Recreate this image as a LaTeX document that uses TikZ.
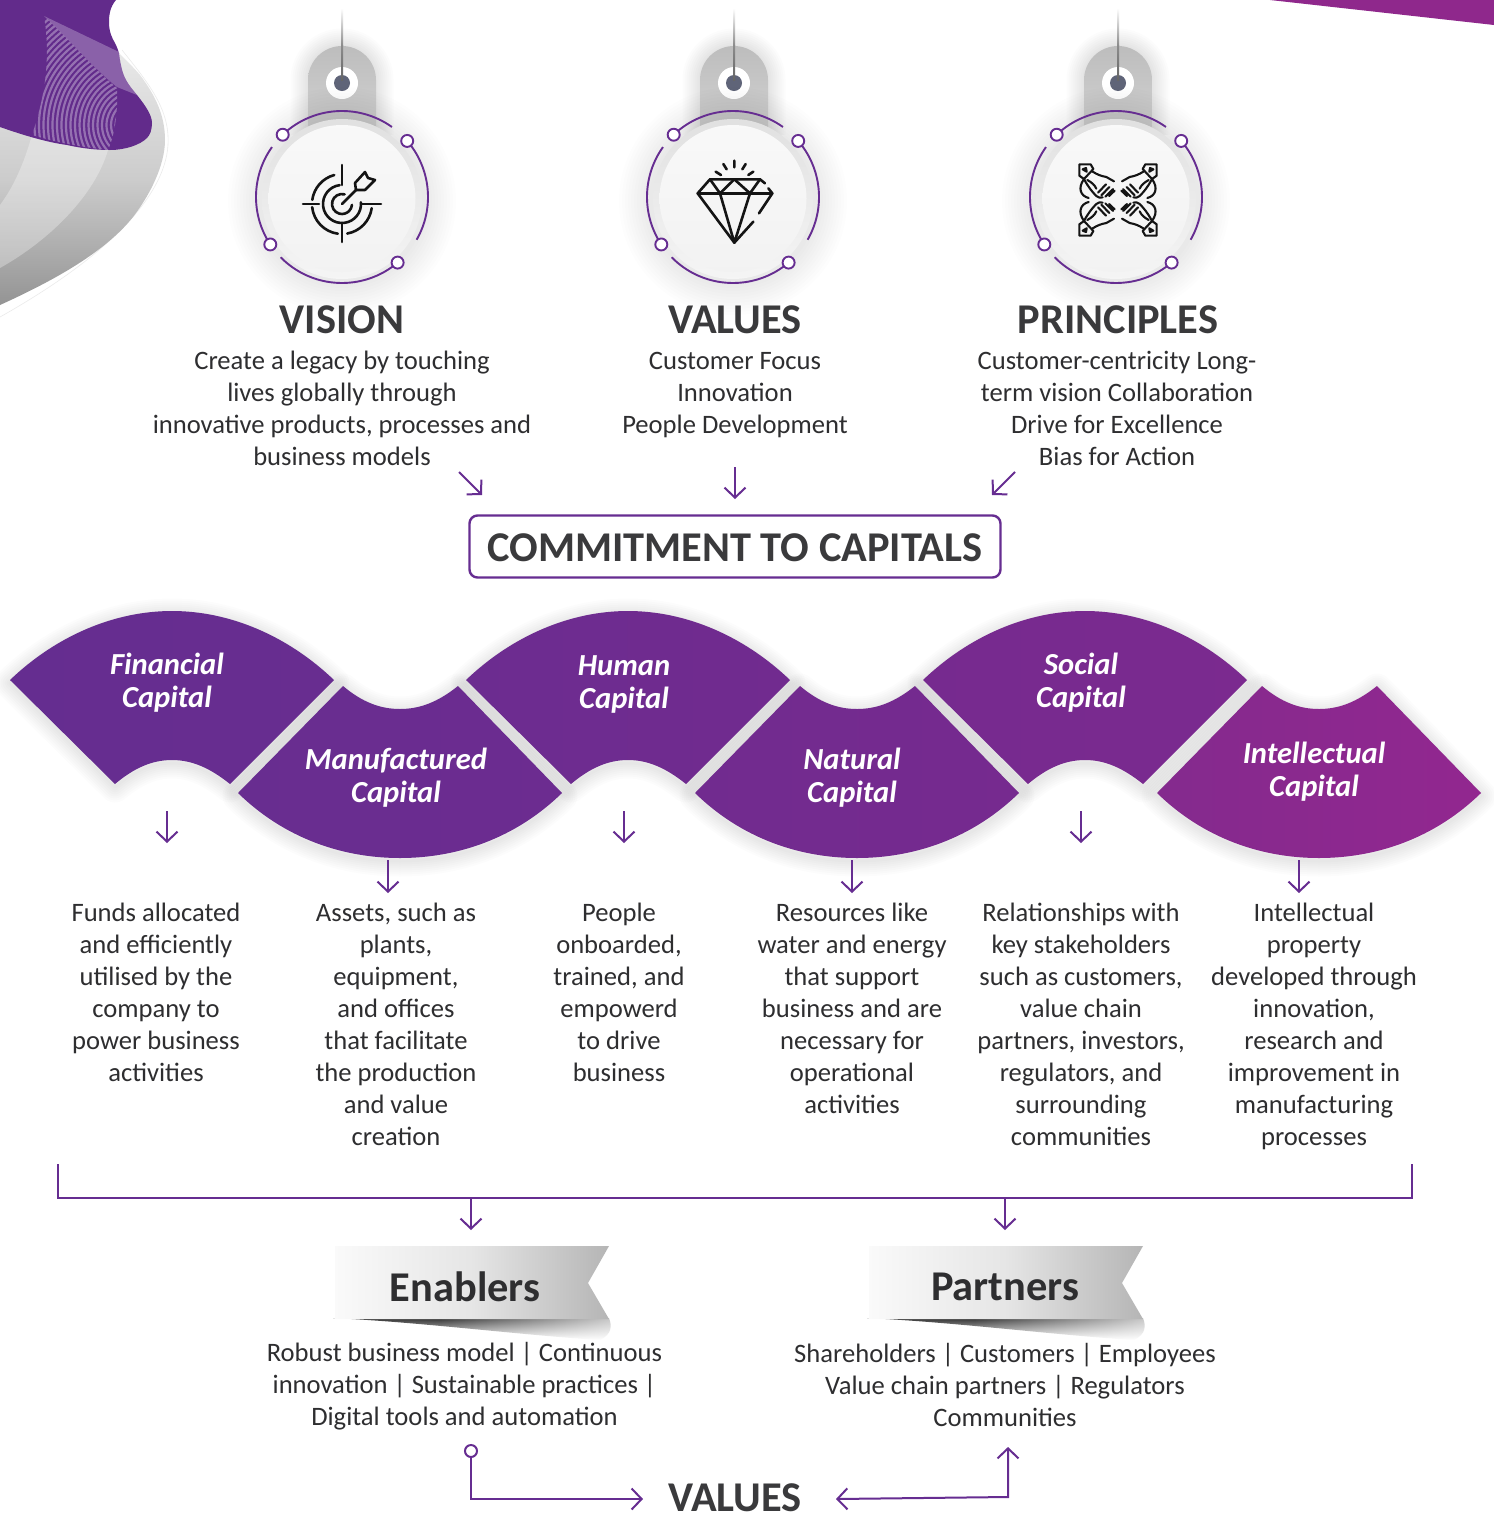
\documentclass[tikz,border=0pt]{standalone}
\usepackage{fontspec}
\setmainfont{Carlito}
\usetikzlibrary{arrows.meta,fadings,calc}
\definecolor{vio}{HTML}{662D91}
\definecolor{ink}{HTML}{2E2E30}
\definecolor{ttl}{HTML}{3A3A3C}
\definecolor{pinkvio}{HTML}{8F288C}
\definecolor{dotc}{HTML}{5F6478}
\tikzfading[name=toright, left color=transparent!100, right color=transparent!25]
\tikzset{
  x=1pt,y=-1pt,
  conn/.style={draw=vio,line width=2pt,-{Straight Barb[length=10pt,width=21pt,line width=2pt]}},
  plainconn/.style={draw=vio,line width=2pt},
  bodytext/.style={font=\fontsize{26.6}{32}\selectfont,text=ink,align=center,inner sep=0pt},
  headtext/.style={font=\fontsize{42.4}{44}\selectfont\bfseries,text=ttl,inner sep=0pt},
  caplabel/.style={font=\fontsize{30.6}{33}\selectfont\bfseries\itshape,text=white,align=center,inner sep=0pt},
  ringarc/.style={draw=vio,line width=1.9pt},
  ringdot/.style={draw=vio,line width=1.9pt,fill=white},
  icon/.style={draw=black!92,line width=2.6pt,line cap=round,line join=round},
  iconb/.style={draw=black!92,line width=2.1pt,line cap=round,line join=round},
}
\def\toppath{(0,680) .. controls (46,636) and (104,611) .. (162,611) .. controls (220,611) and (278,636) .. (324,680) -- (220,784) .. controls (200,768) and (182,760) .. (162,760) .. controls (142,760) and (124,768) .. (105,784) -- cycle}
\def\botpath{(0,793) -- (105,686) .. controls (124,702) and (142,709) .. (162,709) .. controls (182,709) and (200,702) .. (220,686) -- (324,793) .. controls (278,838) and (220,858) .. (162,858) .. controls (104,858) and (46,838) .. (0,793) -- cycle}
\newcommand{\softshadow}[2]{\begin{scope}[shift={(#1,3)}]\foreach \w in {3,7,...,31}{\draw[black,opacity=.012,line width=\w pt,line join=round] #2;}\end{scope}}
\newcommand{\wavefill}[4]{\begin{scope}[shift={(#1,0)}]\shade[left color=#3,right color=#4] #2;\end{scope}}
% #1 = centre of the tag, #2 = centre of the ring
\newcommand{\pendant}[2]{%
  \begin{scope}[shift={(#1,0)}]
    \foreach \w in {3,7,...,35}{\draw[black,opacity=.010,line width=\w pt] (-34,135) -- (-34,80) arc[start angle=180,end angle=0,radius=34pt] -- (34,135);}
    \shade[top color=black!26,bottom color=black!17] (-34,135) -- (-34,80) arc[start angle=180,end angle=0,radius=34pt] -- (34,135) -- cycle;
    \fill[white] (0,83) circle[radius=16pt];
    \fill[dotc] (0,83) circle[radius=8pt];
  \end{scope}
  \begin{scope}[shift={(#2,0)}]
    \foreach \r in {84,87,...,114}{\fill[black,opacity=.006] (0,201) circle[radius=\r pt];}
    \shade[top color=black!12,bottom color=black!4] (0,199) circle[radius=80pt];
    \shade[top color=black!2.5,bottom color=black!5] (0,198.5) circle[radius=73.5pt];
    \draw[ringarc] (0,197) ++(-133.6:86) arc[start angle=133.6,end angle=54.5,radius=86pt];
    \draw[ringarc] (0,197) ++(-40.7:86) arc[start angle=40.7,end angle=-29.8,radius=86pt];
    \draw[ringarc] (0,197) ++(49.7:86) arc[start angle=-49.7,end angle=-135.5,radius=86pt];
    \draw[ringarc] (0,197) ++(-213.5:86) arc[start angle=213.5,end angle=144.5,radius=86pt];
    \foreach \a in {-133.6,-40.7,49.7,-213.5}{\draw[ringdot] (0,197) ++(\a:86) circle[radius=6pt];}
  \end{scope}
  \begin{scope}[shift={(#1,0)}]
    \shade[top color=black!45,bottom color=black!60] (-1,45) rectangle (1,80);
    \shade[top color=white,bottom color=black!45] (-1,8) rectangle (1,45);
  \end{scope}}
\begin{document}
\begin{tikzpicture}
\useasboundingbox (0,0) rectangle (1494,1513);
\fill[white] (0,0) rectangle (1494,1513);

% ---------- corner artwork, top left
\draw[black!8,line width=.6pt] (122,50) .. controls (150,85) and (170,110) .. (168,145) .. controls (165,195) and (110,255) .. (0,317);
\shade[top color=black!9,bottom color=black!42,middle color=black!20]
  (0,100) -- (119,53) .. controls (128,62) and (134,68) .. (140,75) .. controls (155,95) and (165,115) .. (165,140)
  .. controls (165,165) and (150,195) .. (133,217) .. controls (105,252) and (55,280) .. (0,305) -- cycle;
\fill[white,opacity=.3] (32,135) -- (108,150) .. controls (95,195) and (50,240) .. (0,268) -- (0,205) .. controls (15,185) and (25,160) .. (32,135) -- cycle;
\fill[vio!96!black] (0,0) -- (116,0) .. controls (110,7) and (109,15) .. (109,22) .. controls (109,32) and (112,38) .. (115,43)
  .. controls (117,47) and (118,50) .. (119,53) .. controls (120,62) and (122,72) .. (125,78) .. controls (129,86) and (133,90) .. (137,95)
  .. controls (145,105) and (152,115) .. (152,123) .. controls (152,130) and (150,135) .. (147,138) .. controls (140,145) and (125,150) .. (110,150)
  .. controls (95,150) and (80,148) .. (67,145) .. controls (45,142) and (20,134) .. (0,127) -- cycle;
\fill[white,opacity=.26] (44,16) -- (119,52) .. controls (120,62) and (122,72) .. (125,78) .. controls (129,86) and (133,90) .. (137,95) -- (117,87) .. controls (95,70) and (70,40) .. (44,16) -- cycle;
\begin{scope}
  \clip (44,16) .. controls (70,40) and (95,70) .. (117,88) .. controls (118,110) and (115,135) .. (108,150) .. controls (80,147) and (55,142) .. (32,135) .. controls (42,105) and (52,65) .. (44,16) -- cycle;
  \foreach \r in {15,19.5,...,140}{\draw[white,opacity=.33,line width=2.2pt] (135,125) circle[radius=\r pt];}
\end{scope}

% ---------- top right corner
\fill[pinkvio] (1270,0) -- (1494,0) -- (1494,25) -- cycle;

% ---------- pendants
\pendant{342}{342}\pendant{734}{733}\pendant{1118}{1116}

% ---------- icons
\begin{scope}[shift={(342,204)}]
  \draw[icon] (0,-39) -- (0,-19);
  \draw[icon] (0,19) -- (0,38);
  \draw[icon] (-39,0) -- (-23,0);
  \draw[icon] (19,0) -- (39,0);
  \draw[icon] (-105:30) arc[start angle=105,end angle=172,radius=30pt];
  \draw[icon] (-186:30) arc[start angle=186,end angle=262,radius=30pt];
  \draw[icon] (-280:30) arc[start angle=280,end angle=352,radius=30pt];
  \draw[icon] (-97:19) arc[start angle=97,end angle=365,radius=19pt];
  \draw[icon] (-75:10) arc[start angle=75,end angle=355,radius=10pt];
  \draw[icon] (0,0) -- (14,-14);
  \draw[icon] (13,-21) -- (23,-32) -- (26,-26) -- (33,-24) -- (23,-14) -- (14,-14) -- cycle;
\end{scope}
\begin{scope}[shift={(685,150)},x=.3333pt,y=-.3333pt]
  \draw[icon] (148,32) -- (148,52) (115,42) -- (125,58) (182,42) -- (172,58) (92,65) -- (108,75) (205,65) -- (190,75);
  \draw[icon] (240,100) -- (225,88) -- (75,88) -- (38,130) -- (148,278) -- (205,215);
  \draw[icon] (222,190) -- (262,130) -- (250,115);
  \draw[icon] (38,130) -- (262,130);
  \draw[icon] (75,88) -- (105,130) -- (148,88) -- (195,130) -- (225,88);
  \draw[icon] (105,130) -- (148,278) -- (195,130);
\end{scope}
\begin{scope}[shift={(1118,200)},x=.3333pt,y=-.3333pt]
  \foreach \a in {1,-1}{\foreach \b in {1,-1}{
    \begin{scope}[xscale=\a,yscale=\b]
      \draw[iconb] (-116,-107) -- (-82,-107) -- (-74,-93) -- (-102,-63) -- (-116,-73) -- cycle;
      \draw[iconb] (-106,-92) -- (-96,-96) -- (-94,-85) -- cycle;
      \draw[iconb] (-76,-85) .. controls (-60,-75) and (-50,-72) .. (-35,-69) -- (-12,-56);
      \draw[iconb] (-102,-63) .. controls (-122,-35) and (-112,-12) .. (-88,-6);
      \draw[iconb] (-102,-63) .. controls (-90,-40) and (-78,-25) .. (-65,-12) .. controls (-58,-6) and (-52,-6) .. (-46,-8);
      \draw[iconb] (-92,-60) .. controls (-78,-52) and (-70,-45) .. (-65,-34);
      \draw[iconb] (-60,-22) -- (-36,-47) (-50,-14) -- (-26,-39) (-38,-10) -- (-15,-33) (-27,-12) -- (-10,-28);
    \end{scope}}}
\end{scope}

% ---------- titles and texts, top
\node[headtext] (tvision) at (342,320) {VISION};
\node[headtext] (tvalues) at (735,320) {VALUES};
\node[headtext] (tprinciples) at (1118,320) {PRINCIPLES};
\node[bodytext] (bvision) at (342,408.5) {Create a legacy by touching\\lives globally through\\innovative products, processes and\\business models};
\node[bodytext] (bvalues) at (735,395.5) {Customer Focus\\Innovation\\People Development};
\node[bodytext] (bprinciples) at (1117,408.5) {Customer-centricity Long-\\term vision Collaboration\\Drive for Excellence\\Bias for Action};

\node[draw=vio,line width=2.4pt,rounded corners=8pt,minimum width=531pt,minimum height=62pt,inner sep=0pt,font=\fontsize{42.4}{44}\selectfont\bfseries,text=ttl] (commit) at (735,546.5) {\raisebox{-15pt}[0pt][0pt]{COMMITMENT TO CAPITALS}};
\coordinate (a1s) at (459,472); \coordinate (a1e) at (482,495);
\coordinate (a2s) at (735,467); \coordinate (a2e) at (735,499);
\coordinate (a3s) at (1015,472); \coordinate (a3e) at (992,495);
\draw[conn] (a1s) -- (a1e);
\draw[conn] (a2s) -- (a2e);
\draw[conn] (a3s) -- (a3e);

% ---------- wave
\softshadow{10}{\toppath}\softshadow{466}{\toppath}\softshadow{923}{\toppath}
\softshadow{238}{\botpath}\softshadow{695}{\botpath}\softshadow{1157}{\botpath}
\definecolor{w0}{HTML}{652D90}\definecolor{w1}{HTML}{682D90}\definecolor{w2}{HTML}{6C2C90}
\definecolor{w3}{HTML}{712B8F}\definecolor{w4}{HTML}{762A8F}\definecolor{w5}{HTML}{7B2A8F}
\definecolor{w6}{HTML}{842A8E}\definecolor{w7}{HTML}{92278F}
\wavefill{10}{\toppath}{w0}{w1}
\wavefill{238}{\botpath}{w1}{w2}
\wavefill{466}{\toppath}{w2}{w3}
\wavefill{695}{\botpath}{w3}{w4}
\wavefill{923}{\toppath}{w4}{w5}
\wavefill{1157}{\botpath}{w6}{w7}
\node[caplabel] (c1) at (167,682.5) {Financial\\Capital};
\node[caplabel] (c2) at (396,778) {Manufactured\\Capital};
\node[caplabel] (c3) at (624,684) {Human\\Capital};
\node[caplabel] (c4) at (852,778) {Natural\\Capital};
\node[caplabel] (c5) at (1081,683) {Social\\Capital};
\node[caplabel] (c6) at (1314,771.5) {Intellectual\\Capital};
\coordinate (d1s) at (167,811); \coordinate (d1e) at (167,843);
\coordinate (d2s) at (388,860); \coordinate (d2e) at (388,893);
\coordinate (d3s) at (624,811); \coordinate (d3e) at (624,843);
\coordinate (d4s) at (852,860); \coordinate (d4e) at (852,893);
\coordinate (d5s) at (1081,811); \coordinate (d5e) at (1081,843);
\coordinate (d6s) at (1299,860); \coordinate (d6e) at (1299,893);
\foreach \i in {1,...,6}{\draw[conn] (d\i s) -- (d\i e);}

\node[bodytext] (t1) at (156,992.5) {Funds allocated\\and efficiently\\utilised by the\\company to\\power business\\activities};
\node[bodytext] (t2) at (396,1024.5) {Assets, such as\\plants,\\equipment,\\and offices\\that facilitate\\the production\\and value\\creation};
\node[bodytext] (t3) at (619,992.5) {People\\onboarded,\\trained, and\\empowerd\\to drive\\business};
\node[bodytext] (t4) at (852,1008.5) {Resources like\\water and energy\\that support\\business and are\\necessary for\\operational\\activities};
\node[bodytext] (t5) at (1081,1024.5) {Relationships with\\key stakeholders\\such as customers,\\value chain\\partners, investors,\\regulators, and\\surrounding\\communities};
\node[bodytext] (t6) at (1314,1026.5) {Intellectual\\property\\developed through\\innovation,\\research and\\improvement in\\manufacturing\\processes};

% ---------- bracket
\coordinate (bl) at (58,1164); \coordinate (blc) at (58,1198);
\coordinate (br) at (1412,1164); \coordinate (brc) at (1412,1198);
\draw[plainconn] (bl) -- (blc) -- (brc) -- (br);
\coordinate (e1s) at (471,1198); \coordinate (e1e) at (471,1230);
\coordinate (e2s) at (1005,1198); \coordinate (e2e) at (1005,1230);
\draw[conn] (e1s) -- (e1e);
\draw[conn] (e2s) -- (e2e);

% ---------- ribbons
\foreach \dx in {0,534}{
 \begin{scope}[shift={(\dx,0)}]
  \shade[top color=black!80,bottom color=white] (333,1318) -- (609,1318) .. controls (612,1326) and (612,1334) .. (600,1340) .. controls (520,1335) and (420,1322) .. (333,1318) -- cycle;
  \fill[white,path fading=toright] (440,1318) rectangle (615,1342);
  \shade[left color=black!2,right color=black!29,middle color=black!10] (335,1246) -- (609,1246) -- (588,1283) -- (609,1319) -- (335,1319) -- cycle;
 \end{scope}}
\node[headtext,text=ink] (enablers) at (465,1287) {Enablers};
\node[headtext,text=ink] (partners) at (1005,1287) {Partners};
\node[bodytext] (tenab) at (464.5,1386) {Robust business model | Continuous\\innovation | Sustainable practices |\\Digital tools and automation};
\node[bodytext] (tpart) at (1005,1385) {Shareholders | Customers | Employees\\Value chain partners | Regulators\\Communities};

% ---------- bottom
\node[headtext] (vbottom) at (735,1498) {VALUES};
\node[circle,draw=vio,line width=2pt,fill=white,minimum size=12pt,inner sep=0pt] (startdot) at (471,1451) {};
\coordinate (vl) at (643,1499);
\coordinate (vr) at (836,1499);
\coordinate (vc) at (1008,1497);
\coordinate (vu) at (1008,1447);
\draw[conn] (startdot.south) |- (vl);
\draw[draw=vio,line width=2pt,{Straight Barb[length=10pt,width=21pt,line width=2pt]}-{Straight Barb[length=10pt,width=21pt,line width=2pt]}] (vr) -- (vc) -- (vu);
\end{tikzpicture}
\end{document}
